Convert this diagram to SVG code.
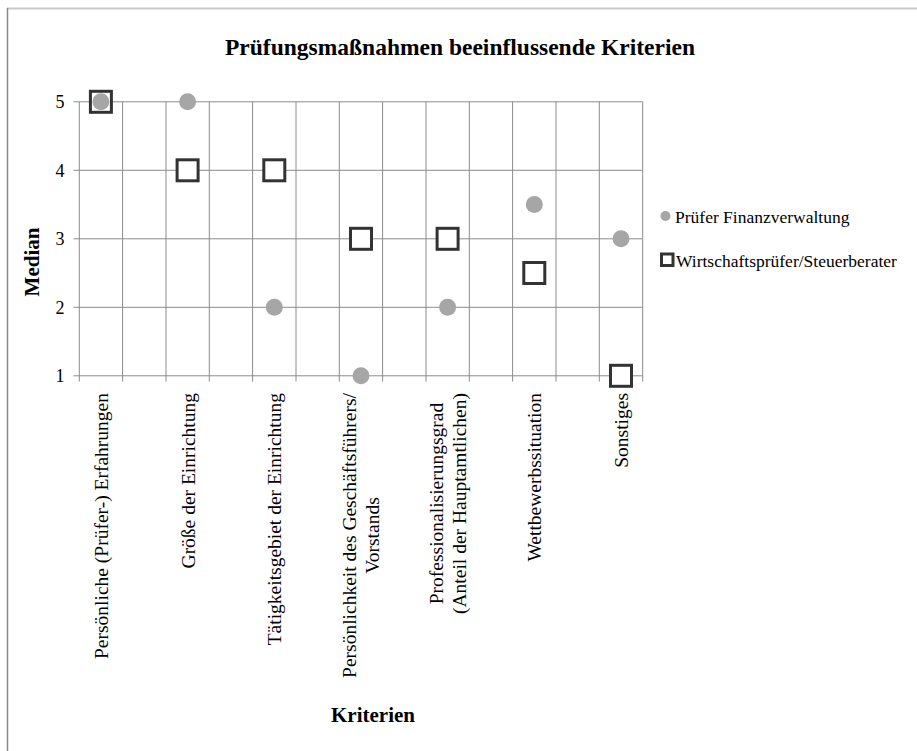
<svg xmlns="http://www.w3.org/2000/svg" width="917" height="751" viewBox="0 0 917 751" font-family="'Liberation Serif', 'Times New Roman', serif">
<style>
.grid{stroke:#8c8c8c;stroke-width:1;fill:none}
.t{font-family:"Liberation Serif","Times New Roman",serif;fill:#000}
.b{font-weight:bold}
.pf{fill:#a6a6a6}
.wp{fill:#fff;stroke:#333;stroke-width:3}
</style>
<rect x="0" y="0" width="917" height="751" fill="#fff"/>
<line x1="7" y1="8.5" x2="917" y2="8.5" stroke="#c8c8c8" stroke-width="2"/>
<line x1="7.5" y1="8" x2="7.5" y2="751" stroke="#888" stroke-width="1.5"/>
<text class="t b" x="460" y="55" font-size="23.5" text-anchor="middle">Prüfungsmaßnahmen beeinflussende Kriterien</text>
<g id="connectors">
<g class="grid">
<path d="M73.5 101.8H642.7M73.5 170.3H642.7M73.5 238.8H642.7M73.5 307.3H642.7M73.5 375.8H642.7"/>
<path d="M79.3 101.8V381.5M122.6 101.8V381.5M166 101.8V381.5M209.3 101.8V381.5M252.6 101.8V381.5M296 101.8V381.5M339.3 101.8V381.5M382.6 101.8V381.5M426 101.8V381.5M469.3 101.8V381.5M512.6 101.8V381.5M556 101.8V381.5M599.3 101.8V381.5M642.7 101.8V381.5"/>
</g>
</g>
<g id="yaxis" class="t" font-size="18" text-anchor="end">
<text x="64.5" y="108">5</text>
<text x="64.5" y="176.5">4</text>
<text x="64.5" y="245">3</text>
<text x="64.5" y="313.5">2</text>
<text x="64.5" y="382">1</text>
</g>
<text class="t b" font-size="21" text-anchor="middle" transform="translate(39 262) rotate(-90)">Median</text>
<g id="series-wp">
<rect class="wp" x="90.4" y="91.3" width="21" height="21"/>
<rect class="wp" x="177.1" y="159.8" width="21" height="21"/>
<rect class="wp" x="263.8" y="159.8" width="21" height="21"/>
<rect class="wp" x="350.5" y="228.3" width="21" height="21"/>
<rect class="wp" x="437.1" y="228.3" width="21" height="21"/>
<rect class="wp" x="523.8" y="262.5" width="21" height="21"/>
<rect class="wp" x="610.5" y="365.3" width="21" height="21"/>
</g>
<g id="series-pf">
<circle class="pf" cx="100.9" cy="101.8" r="8.5"/>
<circle class="pf" cx="187.6" cy="101.8" r="8.5"/>
<circle class="pf" cx="274.3" cy="307.3" r="8.5"/>
<circle class="pf" cx="361" cy="375.8" r="8.5"/>
<circle class="pf" cx="447.6" cy="307.3" r="8.5"/>
<circle class="pf" cx="534.3" cy="204.6" r="8.5"/>
<circle class="pf" cx="621" cy="238.8" r="8.5"/>
</g>
<g id="xlabels" class="t" font-size="19.5">
<text text-anchor="end" transform="translate(107.9 393) rotate(-90)">Persönliche (Prüfer-) Erfahrungen</text>
<text text-anchor="end" transform="translate(194.6 393) rotate(-90)">Größe der Einrichtung</text>
<text text-anchor="end" transform="translate(281.3 393) rotate(-90)">Tätigkeitsgebiet der Einrichtung</text>
<text text-anchor="middle" transform="translate(356 535.5) rotate(-90)">Persönlichkeit des Geschäftsführers/</text>
<text text-anchor="middle" transform="translate(378.5 535.5) rotate(-90)">Vorstands</text>
<text text-anchor="middle" transform="translate(443 503.5) rotate(-90)">Professionalisierungsgrad</text>
<text text-anchor="middle" transform="translate(465.5 503.5) rotate(-90)">(Anteil der Hauptamtlichen)</text>
<text text-anchor="end" transform="translate(541.3 393) rotate(-90)">Wettbewerbssituation</text>
<text text-anchor="end" transform="translate(628 393) rotate(-90)">Sonstiges</text>
</g>
<text class="t b" x="373" y="722" font-size="21" text-anchor="middle">Kriterien</text>
<g id="legend">
<circle class="pf" cx="665.5" cy="216" r="5"/>
<text class="t" x="675" y="222.5" font-size="17.5">Prüfer Finanzverwaltung</text>
<rect x="661.5" y="254" width="11.5" height="11.5" fill="#fff" stroke="#333" stroke-width="3"/>
<text class="t" x="676" y="266.5" font-size="17.5">Wirtschaftsprüfer/Steuerberater</text>
</g>
</svg>
